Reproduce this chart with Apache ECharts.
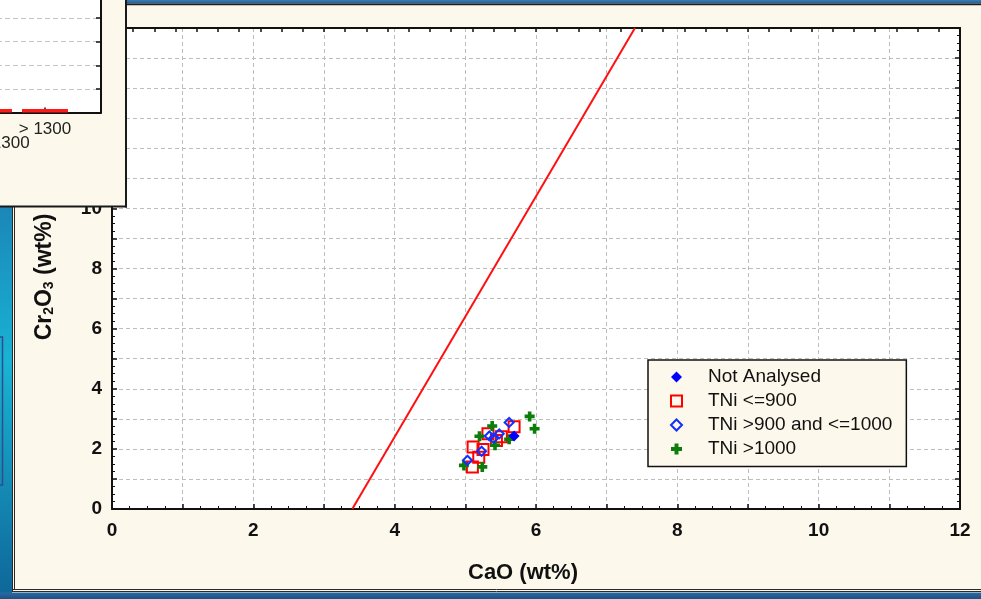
<!DOCTYPE html>
<html><head><meta charset="utf-8">
<script src="https://cdn.jsdelivr.net/npm/echarts/dist/echarts.min.js"></script>
<style>html,body{margin:0;padding:0;background:#fdf8ec;}#c{width:981px;height:599px;}</style>
</head><body><div id="c"></div>
<script>
// ---- data ----
const seriesNames = ['Not Analysed', 'TNi <=900', 'TNi >900 and <=1000', 'TNi >1000'];
const notAnalysed = [[5.69, 2.43]];
const tniLe900 = [[5.69, 2.74], [5.32, 2.50], [5.51, 2.40], [5.11, 2.06], [5.25, 1.98], [5.19, 1.72], [5.10, 1.40], [5.44, 2.28]];
const tni900to1000 = [[5.34, 2.43], [5.48, 2.50], [5.62, 2.88], [5.23, 1.92], [5.03, 1.62], [5.40, 2.35]];
const tniGt1000 = [[5.91, 3.08], [5.98, 2.67], [4.98, 1.45], [5.24, 1.40], [5.38, 2.76], [5.42, 2.12], [5.62, 2.32], [5.20, 2.42]];
const boundaryLine = [[3.4, 0], [7.4, 16]];
const insetCategories = ['', '1200-1300', '> 1300', ''];
const insetValues = [[1, 0.15], [2, 0.15]];
const xAxisTitle = 'CaO (wt%)';
const yAxisTitleRich = '{a|Cr}{b|2}{a|O}{b|3}{a| (wt%)}';

const FONT = "'Liberation Sans', Arial, Helvetica, sans-serif";
const BEIGE = '#fdf8ec';
const chart = echarts.init(document.getElementById('c'), null, {renderer: 'canvas'});

const evenLabel = v => (Math.round(v) % 2 === 0 ? String(Math.round(v)) : '');
const gridLine = {show: true, lineStyle: {color: '#bdbdbd', type: [4, 3], width: 1}};
const blackLine = {show: true, onZero: false, lineStyle: {color: '#111', width: 2}};
const crossPath = 'path://M3.2,0H6.8V3.2H10V6.8H6.8V10H3.2V6.8H0V3.2H3.2Z';

const option = {
  backgroundColor: BEIGE,
  animation: false,
  grid: [
    {left: 112, top: 28, right: 21, bottom: 90, show: true, backgroundColor: '#fff', borderWidth: 0, containLabel: false, outerBoundsMode: 'none'},
    {left: -67, top: -5.5, width: 168, height: 118, show: true, backgroundColor: '#fff', borderWidth: 0, containLabel: false, outerBoundsMode: 'none', zlevel: 1, z: 5}
  ],
  xAxis: [
    {type: 'value', gridIndex: 0, min: 0, max: 12, interval: 1, position: 'bottom',
     axisLine: blackLine,
     axisTick: {show: true, inside: true, length: 5, lineStyle: {color: '#111', width: 1.5}},
     minorTick: {show: true, splitNumber: 4, length: 3, lineStyle: {color: '#111', width: 1}},
     splitLine: gridLine,
     axisLabel: {formatter: evenLabel, margin: 12, fontSize: 19, fontWeight: 'bold', fontFamily: FONT, color: '#111'}},
    {type: 'value', gridIndex: 0, min: 0, max: 12, interval: 0.3, position: 'top',
     axisLine: blackLine,
     axisTick: {show: true, inside: true, length: 4, lineStyle: {color: '#111', width: 1.5}},
     splitLine: {show: false}, axisLabel: {show: false}},
    {type: 'value', gridIndex: 1, min: 0, max: 3, interval: 1, position: 'bottom', zlevel: 1, z: 6,
     axisLine: {show: true, onZero: false, lineStyle: {color: '#111', width: 2}},
     axisTick: {show: true, inside: true, length: 5, lineStyle: {color: '#111', width: 1.5}},
     splitLine: {show: false},
     axisLabel: {margin: 10, fontSize: 17, fontFamily: FONT, color: '#222', lineHeight: 14,
       formatter: v => { const i = Math.round(v); const t = insetCategories[i] || ''; return (i % 2 === 1 && t) ? '\n' + t : t; }}}
  ],
  yAxis: [
    {type: 'value', gridIndex: 0, min: 0, max: 16, interval: 1, position: 'left',
     axisLine: blackLine,
     axisTick: {show: true, inside: true, length: 5, lineStyle: {color: '#111', width: 1.5}},
     minorTick: {show: true, splitNumber: 4, length: 3, lineStyle: {color: '#111', width: 1}},
     splitLine: gridLine,
     axisLabel: {formatter: evenLabel, margin: 10, fontSize: 19, fontWeight: 'bold', fontFamily: FONT, color: '#111'}},
    {type: 'value', gridIndex: 0, min: 0, max: 16, interval: 1, position: 'right',
     axisLine: blackLine,
     axisTick: {show: true, inside: true, length: 5, lineStyle: {color: '#111', width: 1.5}},
     minorTick: {show: true, splitNumber: 4, length: 3, lineStyle: {color: '#111', width: 1}},
     splitLine: {show: false}, axisLabel: {show: false}},
    {type: 'value', gridIndex: 1, min: 0, max: 5, interval: 1, position: 'right', zlevel: 1, z: 6,
     axisLine: {show: true, onZero: false, lineStyle: {color: '#111', width: 2}},
     axisTick: {show: true, inside: true, length: 5, lineStyle: {color: '#111', width: 1.5}},
     splitLine: {show: true, lineStyle: {color: '#c4c4c4', type: [5, 3], width: 1.2}},
     axisLabel: {show: false}}
  ],
  legend: {
    data: seriesNames, left: 648, top: 360, orient: 'vertical',
    itemWidth: 11, itemHeight: 11, itemGap: 5, padding: [7.5, 14, 8, 22],
    backgroundColor: BEIGE, borderColor: '#111', borderWidth: 1.5, borderRadius: 0,
    selectedMode: false,
    textStyle: {fontSize: 19, fontFamily: FONT, color: '#111', padding: [0, 0, 0, 21]}
  },
  series: [
    {name: 'boundary', type: 'line', xAxisIndex: 0, yAxisIndex: 0, data: boundaryLine, symbol: 'none',
     lineStyle: {color: '#ff1010', width: 2}, z: 2, silent: true},
    {name: seriesNames[1], type: 'scatter', xAxisIndex: 0, yAxisIndex: 0, data: tniLe900, symbol: 'rect', symbolSize: 11,
     itemStyle: {color: 'rgba(0,0,0,0)', borderColor: '#ff0000', borderWidth: 2, opacity: 1}, z: 3},
    {name: seriesNames[3], type: 'scatter', xAxisIndex: 0, yAxisIndex: 0, data: tniGt1000,
     symbol: crossPath, symbolSize: 10,
     itemStyle: {color: '#0a7d0a', opacity: 1}, z: 4},
    {name: seriesNames[2], type: 'scatter', xAxisIndex: 0, yAxisIndex: 0, data: tni900to1000, symbol: 'diamond', symbolSize: 9,
     itemStyle: {color: 'rgba(0,0,0,0)', borderColor: '#1030ff', borderWidth: 2, opacity: 1}, z: 5},
    {name: seriesNames[0], type: 'scatter', xAxisIndex: 0, yAxisIndex: 0, data: notAnalysed, symbol: 'diamond', symbolSize: 11,
     itemStyle: {color: '#0000ff', opacity: 1}, z: 6},
    {name: 'inset', type: 'bar', xAxisIndex: 2, yAxisIndex: 2, data: insetValues, barWidth: 46,
     itemStyle: {color: '#ff1a1a'}, zlevel: 1, z: 7, silent: true}
  ],
  graphic: [
    {type: 'rect', zlevel: 0, z: 50, shape: {x: 0, y: 0, width: 981, height: 3.5},
     style: {fill: {type: 'linear', x: 0, y: 0, x2: 0, y2: 1, colorStops: [{offset: 0, color: '#3a7db5'}, {offset: 1, color: '#235d94'}]}}},
    {type: 'rect', zlevel: 0, z: 50, shape: {x: 0, y: 3.5, width: 981, height: 1.8}, style: {fill: '#1c1c1c'}},
    {type: 'rect', zlevel: 0, z: 50, shape: {x: 0, y: 205, width: 12, height: 394},
     style: {fill: {type: 'linear', x: 0, y: 0, x2: 0, y2: 1, colorStops: [{offset: 0, color: '#1b86b8'}, {offset: 0.4, color: '#19b3d4'}, {offset: 1, color: '#0f6598'}]}}},
    {type: 'rect', zlevel: 0, z: 51, shape: {x: -10, y: 337, width: 12.5, height: 148},
     style: {fill: 'none', stroke: '#2c4f8c', lineWidth: 1.5}},
    {type: 'line', zlevel: 0, z: 51, shape: {x1: 12.5, y1: 205, x2: 12.5, y2: 592}, style: {stroke: '#2a2a2a', lineWidth: 1}},
    {type: 'line', zlevel: 0, z: 51, shape: {x1: 14.5, y1: 205, x2: 14.5, y2: 590}, style: {stroke: '#2a2a2a', lineWidth: 1}},
    {type: 'line', zlevel: 0, z: 51, shape: {x1: 12, y1: 589.5, x2: 981, y2: 589.5}, style: {stroke: '#2a2a2a', lineWidth: 1}},
    {type: 'line', zlevel: 0, z: 51, shape: {x1: 12, y1: 591.5, x2: 981, y2: 591.5}, style: {stroke: '#2a2a2a', lineWidth: 1}},
    {type: 'rect', zlevel: 0, z: 50, shape: {x: 0, y: 592.5, width: 981, height: 7},
     style: {fill: {type: 'linear', x: 0, y: 0, x2: 0, y2: 1, colorStops: [{offset: 0, color: '#2b6aa3'}, {offset: 1, color: '#1b4f82'}]}}},
    {type: 'text', zlevel: 0, z: 50, x: 523, y: 573,
     style: {text: xAxisTitle, fontSize: 22, fontWeight: 'bold', fontFamily: FONT, fill: '#111', align: 'center', verticalAlign: 'middle'}},
    {type: 'text', zlevel: 0, z: 50, x: 45, y: 277, rotation: Math.PI / 2,
     style: {text: yAxisTitleRich, align: 'center', verticalAlign: 'middle', fill: '#111',
       rich: {a: {fontSize: 23, fontWeight: 'bold', fontFamily: FONT, fill: '#111'},
              b: {fontSize: 14, fontWeight: 'bold', fontFamily: FONT, fill: '#111', padding: [9, 0, 0, 0]}}}},
    // inset window
    {type: 'rect', zlevel: 1, z: 1, shape: {x: 0, y: 0, width: 126, height: 206}, style: {fill: BEIGE}},
    {type: 'line', zlevel: 1, z: 30, shape: {x1: 126, y1: 0, x2: 126, y2: 207.5}, style: {stroke: '#1a1a1a', lineWidth: 2}},
    {type: 'line', zlevel: 1, z: 30, shape: {x1: 0, y1: 206.5, x2: 127, y2: 206.5}, style: {stroke: '#1a1a1a', lineWidth: 2}}
  ]
};
chart.setOption(option);
</script></body></html>
